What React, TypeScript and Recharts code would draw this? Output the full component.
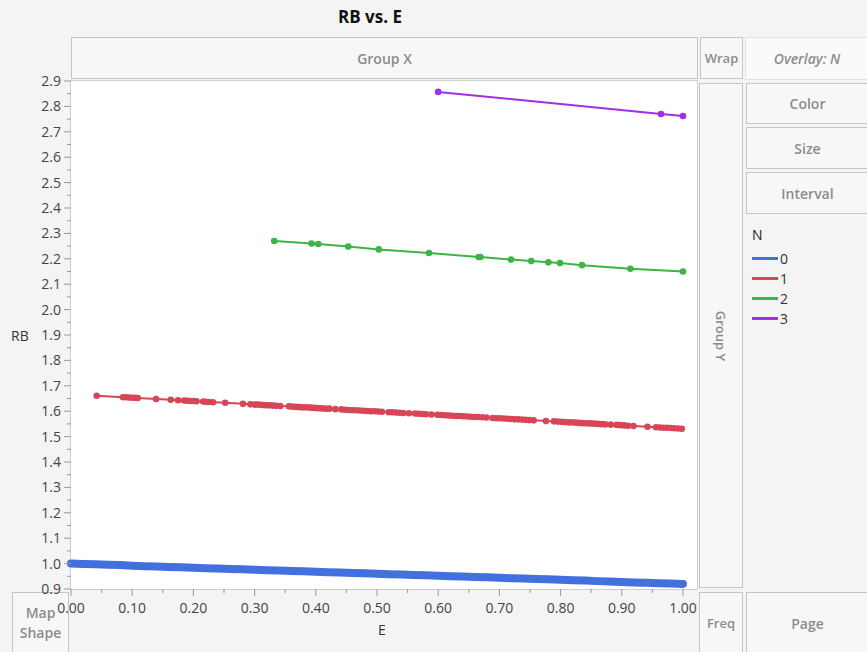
import React from "react";
import { LineChart, Line, XAxis, YAxis } from "recharts";

// values
const eBlue = [0, 0.02, 0.04, 0.06, 0.08, 0.1, 0.12, 0.14, 0.16, 0.18, 0.2, 0.22, 0.24, 0.26, 0.28, 0.3, 0.32, 0.34, 0.36, 0.38, 0.4, 0.42, 0.44, 0.46, 0.48, 0.5, 0.52, 0.54, 0.56, 0.58, 0.6, 0.62, 0.64, 0.66, 0.68, 0.7, 0.72, 0.74, 0.76, 0.78, 0.8, 0.82, 0.84, 0.86, 0.88, 0.9, 0.92, 0.94, 0.96, 0.98, 1.0];
const rbBlue = [1.0, 0.998, 0.997, 0.995, 0.994, 0.992, 0.99, 0.989, 0.987, 0.986, 0.984, 0.982, 0.981, 0.979, 0.978, 0.976, 0.974, 0.973, 0.971, 0.97, 0.968, 0.966, 0.965, 0.963, 0.962, 0.96, 0.958, 0.957, 0.955, 0.954, 0.952, 0.95, 0.949, 0.947, 0.946, 0.944, 0.942, 0.941, 0.939, 0.938, 0.936, 0.934, 0.933, 0.931, 0.93, 0.928, 0.926, 0.925, 0.923, 0.922, 0.92];

const eRed = [0.042, 0.085, 0.09, 0.095, 0.1, 0.105, 0.109, 0.139, 0.163, 0.175, 0.185, 0.19, 0.195, 0.2, 0.205, 0.216, 0.22, 0.225, 0.232, 0.252, 0.281, 0.293, 0.3, 0.305, 0.31, 0.315, 0.32, 0.325, 0.33, 0.335, 0.342, 0.356, 0.362, 0.368, 0.374, 0.38, 0.386, 0.392, 0.398, 0.404, 0.41, 0.416, 0.422, 0.432, 0.442, 0.448, 0.454, 0.46, 0.466, 0.472, 0.478, 0.484, 0.49, 0.496, 0.502, 0.508, 0.519, 0.525, 0.531, 0.537, 0.543, 0.552, 0.562, 0.568, 0.574, 0.58, 0.589, 0.599, 0.605, 0.611, 0.617, 0.623, 0.629, 0.635, 0.641, 0.647, 0.653, 0.659, 0.665, 0.672, 0.679, 0.689, 0.695, 0.701, 0.707, 0.713, 0.719, 0.725, 0.731, 0.737, 0.743, 0.749, 0.756, 0.776, 0.789, 0.795, 0.801, 0.807, 0.813, 0.819, 0.825, 0.831, 0.837, 0.843, 0.849, 0.855, 0.861, 0.867, 0.873, 0.882, 0.892, 0.898, 0.904, 0.91, 0.919, 0.942, 0.956, 0.962, 0.968, 0.974, 0.98, 0.986, 0.992, 0.998];
const rbRed = [1.661, 1.655, 1.655, 1.654, 1.653, 1.653, 1.652, 1.648, 1.645, 1.643, 1.642, 1.641, 1.64, 1.64, 1.639, 1.638, 1.637, 1.636, 1.635, 1.633, 1.629, 1.627, 1.626, 1.626, 1.625, 1.624, 1.623, 1.623, 1.622, 1.621, 1.62, 1.619, 1.618, 1.617, 1.616, 1.615, 1.615, 1.614, 1.613, 1.612, 1.611, 1.61, 1.61, 1.608, 1.607, 1.606, 1.605, 1.604, 1.604, 1.603, 1.602, 1.601, 1.6, 1.6, 1.599, 1.598, 1.596, 1.596, 1.595, 1.594, 1.593, 1.592, 1.591, 1.59, 1.589, 1.588, 1.587, 1.586, 1.585, 1.584, 1.583, 1.582, 1.581, 1.581, 1.58, 1.579, 1.578, 1.577, 1.577, 1.576, 1.575, 1.573, 1.572, 1.572, 1.571, 1.57, 1.569, 1.568, 1.568, 1.567, 1.566, 1.565, 1.564, 1.561, 1.56, 1.559, 1.558, 1.557, 1.556, 1.556, 1.555, 1.554, 1.553, 1.552, 1.552, 1.551, 1.55, 1.549, 1.548, 1.547, 1.546, 1.545, 1.544, 1.543, 1.542, 1.539, 1.537, 1.536, 1.535, 1.535, 1.534, 1.533, 1.532, 1.531];

const eGreen = [0.332, 0.393, 0.404, 0.453, 0.503, 0.585, 0.666, 0.669, 0.719, 0.752, 0.78, 0.799, 0.835, 0.914, 1.0];
const rbGreen = [2.27, 2.26, 2.258, 2.248, 2.237, 2.223, 2.207, 2.207, 2.197, 2.191, 2.186, 2.183, 2.175, 2.161, 2.15];

const ePurple = [0.6, 0.964, 1.0];
const rbPurple = [2.857, 2.77, 2.762];

const xMajor = [0, 0.1, 0.2, 0.3, 0.4, 0.5, 0.6, 0.7, 0.8, 0.9, 1.0];
const yMajor = [0.9, 1.0, 1.1, 1.2, 1.3, 1.4, 1.5, 1.6, 1.7, 1.8, 1.9, 2.0, 2.1, 2.2, 2.3, 2.4, 2.5, 2.6, 2.7, 2.8, 2.9];

const groups = ["0", "1", "2", "3"];
const colors = ["#4270df", "#d74657", "#3cb446", "#a22ee6"];

const zip = (xs: number[], ys: number[]) => xs.map((e, i) => ({ e, rb: ys[i] }));
const series = [zip(eBlue, rbBlue), zip(eRed, rbRed), zip(eGreen, rbGreen), zip(ePurple, rbPurple)];

const xTicks = [...xMajor, ...xMajor.slice(0, -1).map((v) => v + 0.05)].sort((a, b) => a - b);
const yTicks = [...yMajor, ...yMajor.slice(0, -1).map((v) => v + 0.05)].sort((a, b) => a - b);

const isMajor = (v: number) => Math.abs(v * 10 - Math.round(v * 10)) < 1e-6;

const FONT = "'Open Sans', 'Noto Sans', sans-serif";

const box = (left: number, top: number, width: number, height: number): React.CSSProperties => ({
  position: "absolute",
  left,
  top,
  width,
  height,
  boxSizing: "border-box",
  border: "1px solid #c6c6c6",
  background: "#f7f7f7",
  display: "flex",
  alignItems: "center",
  justifyContent: "center",
  color: "#8c8c8c",
  fontWeight: 600,
  fontSize: 14,
});

const YTick = (props: any) => {
  const { x, y, payload } = props;
  const major = isMajor(payload.value);
  return (
    <g>
      <line x1={x - (major ? 7 : 4)} x2={x} y1={y} y2={y} stroke="#999" />
      {major && (
        <text x={x - 10} y={y + 5} textAnchor="end" fontSize={14} fill="#444" fontFamily={FONT}>
          {payload.value.toFixed(1)}
        </text>
      )}
    </g>
  );
};

const XTick = (props: any) => {
  const { x, y, payload } = props;
  const major = isMajor(payload.value);
  return (
    <g>
      <line x1={x} x2={x} y1={y} y2={y + (major ? 7 : 4)} stroke="#999" />
      {major && (
        <text x={x} y={y + 24} textAnchor="middle" fontSize={14} fill="#444" fontFamily={FONT}>
          {payload.value.toFixed(2)}
        </text>
      )}
    </g>
  );
};

export default function App() {
  return (
    <div
      style={{
        position: "absolute",
        left: 0,
        top: 0,
        width: 867,
        height: 652,
        background: "#f4f4f4",
        fontFamily: FONT,
        overflow: "hidden",
      }}
    >
      <div style={{ position: "absolute", left: 0, width: 740, top: 5, textAlign: "center", fontWeight: 700, fontSize: 17, color: "#111" }}>
        RB vs. E
      </div>

      <div style={box(71, 37, 627, 42)}>Group X</div>
      <div style={{ ...box(700, 37, 43, 42), fontSize: 13 }}>Wrap</div>
      <div style={{ ...box(745, 37, 124, 43), background: "#fafafa", fontStyle: "italic", border: "1px solid #e2e2e2" }}>
        Overlay: N
      </div>

      <div style={{ position: "absolute", left: 70, top: 80, width: 628, height: 510, background: "#fff", border: "1px solid #cfcfcf", boxSizing: "border-box" }} />

      <div style={box(699, 83, 44, 505)}>
        <span style={{ transform: "rotate(90deg)", whiteSpace: "nowrap", fontSize: 13 }}>Group Y</span>
      </div>
      <div style={box(746, 83, 123, 41)}>Color</div>
      <div style={box(746, 127, 123, 42)}>Size</div>
      <div style={box(746, 172, 123, 42)}>Interval</div>

      <div style={{ position: "absolute", left: 752, top: 225, fontSize: 14, color: "#222" }}>N</div>
      {groups.map((g, i) => (
        <div key={g} style={{ position: "absolute", left: 752, top: 249 + i * 20, display: "flex", alignItems: "center", fontSize: 14, color: "#333" }}>
          <div style={{ width: 26, height: 3, background: colors[i], marginRight: 2 }} />
          <span>{g}</span>
        </div>
      ))}

      <div style={{ ...box(12, 592, 57, 62), flexDirection: "column", lineHeight: "20px" }}>
        <span>Map</span>
        <span>Shape</span>
      </div>
      <div style={{ ...box(699, 592, 44, 62), fontSize: 13 }}>Freq</div>
      <div style={box(746, 592, 123, 62)}>Page</div>

      <div style={{ position: "absolute", left: 11, top: 326, fontSize: 14, color: "#333" }}>RB</div>
      <div style={{ position: "absolute", left: 378, top: 620, fontSize: 14, color: "#333" }}>E</div>

      <div style={{ position: "absolute", left: 0, top: 0 }}>
        <LineChart width={867} height={652} margin={{ top: 81, right: 170, left: 11, bottom: 23 }}>
          <XAxis
            type="number"
            dataKey="e"
            domain={[0, 1.0229]}
            ticks={xTicks}
            tick={<XTick />}
            tickSize={0}
            tickMargin={0}
            axisLine={false}
            height={40}
            interval={0}
            allowDuplicatedCategory={false}
          />
          <YAxis
            type="number"
            dataKey="rb"
            domain={[0.9, 2.9]}
            ticks={yTicks}
            tick={<YTick />}
            tickSize={0}
            tickMargin={0}
            axisLine={false}
            width={60}
            interval={0}
          />
          {series.map((data, i) => (
            <Line
              key={groups[i]}
              data={data}
              dataKey="rb"
              stroke={colors[i]}
              strokeWidth={i === 0 ? 8 : 2}
              strokeLinecap="round"
              dot={i === 0 ? false : { r: 3.3, fill: colors[i], stroke: colors[i], strokeWidth: 0 }}
              isAnimationActive={false}
            />
          ))}
        </LineChart>
      </div>
    </div>
  );
}
